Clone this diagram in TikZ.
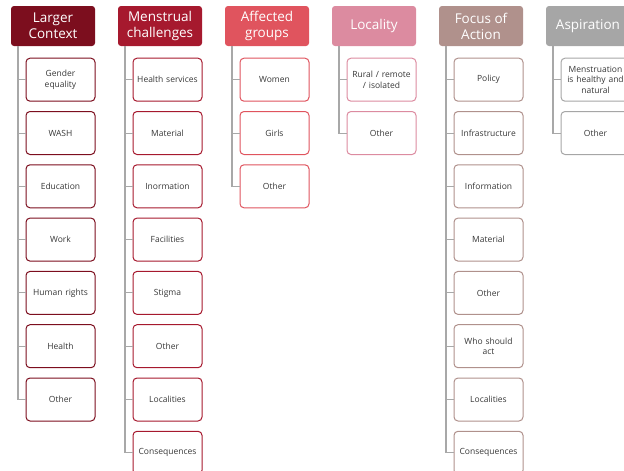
\documentclass[tikz,border=0pt]{standalone}
\usepackage{fontspec}
\setmainfont{Open Sans}
\usepackage{tikz}
\usetikzlibrary{positioning,calc}
\definecolor{ctxRed}{HTML}{7C0E1E}
\definecolor{chalRed}{HTML}{A6192E}
\definecolor{grpRed}{HTML}{E0545E}
\definecolor{locPink}{HTML}{DC8BA0}
\definecolor{actBrown}{HTML}{B0918C}
\definecolor{aspGray}{HTML}{A6A6A6}
\definecolor{lineGray}{HTML}{A8A8A8}
\tikzset{
	head/.style={rounded corners=3pt, minimum width=84pt, minimum height=40pt, inner sep=0pt, align=center, text=white, font=\fontsize{13.5}{16}\selectfont}, % column headers
	item/.style={draw, fill=white, rounded corners=4pt, line width=1pt, minimum width=69pt, minimum height=43pt, text width=64pt, inner sep=0pt, align=center, text=black!78, font=\fontsize{8.5}{10.5}\selectfont}, % boxes under a header
	first/.style={below=11.5pt of #1, xshift=7.5pt}, % first box under a header
	node distance=9.3pt,
	trunk/.style={draw=lineGray, line width=1.6pt},
	twig/.style={draw=lineGray, line width=0.9pt},
}
\begin{document}
\begin{tikzpicture}
	\useasboundingbox (0,0) rectangle (624pt,-471pt);
	\clip (0,0) rectangle (624pt,-471pt);

	% headers
	\node[head, fill=ctxRed] (ctx) at (53pt,-26pt) {Larger\\Context};
	\node[head, fill=chalRed] (chal) at (160pt,-26pt) {Menstrual\\challenges};
	\node[head, fill=grpRed] (grp) at (267pt,-26pt) {Affected\\groups};
	\node[head, fill=locPink] (loc) at (374pt,-26pt) {Locality};
	\node[head, fill=actBrown] (act) at (481pt,-26pt) {Focus of\\Action};
	\node[head, fill=aspGray] (asp) at (588pt,-26pt) {Aspiration};

	% Larger Context
	\node[item, draw=ctxRed, first=ctx] (ctx1) {Gender\\equality};
	\node[item, draw=ctxRed, below=of ctx1] (ctx2) {WASH};
	\node[item, draw=ctxRed, below=of ctx2] (ctx3) {Education};
	\node[item, draw=ctxRed, below=of ctx3] (ctx4) {Work};
	\node[item, draw=ctxRed, below=of ctx4] (ctx5) {Human rights};
	\node[item, draw=ctxRed, below=of ctx5] (ctx6) {Health};
	\node[item, draw=ctxRed, below=of ctx6] (ctx7) {Other};

	% Menstrual challenges
	\node[item, draw=chalRed, first=chal] (chal1) {Health services};
	\node[item, draw=chalRed, below=of chal1] (chal2) {Material};
	\node[item, draw=chalRed, below=of chal2] (chal3) {Inormation};
	\node[item, draw=chalRed, below=of chal3] (chal4) {Facilities};
	\node[item, draw=chalRed, below=of chal4] (chal5) {Stigma};
	\node[item, draw=chalRed, below=of chal5] (chal6) {Other};
	\node[item, draw=chalRed, below=of chal6] (chal7) {Localities};
	\node[item, draw=chalRed, below=of chal7] (chal8) {Consequences};

	% Affected groups
	\node[item, draw=grpRed, first=grp] (grp1) {Women};
	\node[item, draw=grpRed, below=of grp1] (grp2) {Girls};
	\node[item, draw=grpRed, below=of grp2] (grp3) {Other};

	% Locality
	\node[item, draw=locPink, first=loc] (loc1) {Rural / remote\\/ isolated};
	\node[item, draw=locPink, below=of loc1] (loc2) {Other};

	% Focus of Action
	\node[item, draw=actBrown, first=act] (act1) {Policy};
	\node[item, draw=actBrown, below=of act1] (act2) {Infrastructure};
	\node[item, draw=actBrown, below=of act2] (act3) {Information};
	\node[item, draw=actBrown, below=of act3] (act4) {Material};
	\node[item, draw=actBrown, below=of act4] (act5) {Other};
	\node[item, draw=actBrown, below=of act5] (act6) {Who should\\act};
	\node[item, draw=actBrown, below=of act6] (act7) {Localities};
	\node[item, draw=actBrown, below=of act7] (act8) {Consequences};

	% Aspiration
	\node[item, draw=aspGray, first=asp] (asp1) {Menstruation\\is healthy and\\natural};
	\node[item, draw=aspGray, below=of asp1] (asp2) {Other};

	% trunks
	\coordinate (ctxT) at ([xshift=7pt]ctx.south west);
	\coordinate (chalT) at ([xshift=7pt]chal.south west);
	\coordinate (grpT) at ([xshift=7pt]grp.south west);
	\coordinate (locT) at ([xshift=7pt]loc.south west);
	\coordinate (actT) at ([xshift=7pt]act.south west);
	\coordinate (aspT) at ([xshift=7pt]asp.south west);
	\draw[trunk] (ctxT) -- (ctxT |- ctx7.west);
	\draw[trunk] (chalT) -- (chalT |- chal8.west);
	\draw[trunk] (grpT) -- (grpT |- grp3.west);
	\draw[trunk] (locT) -- (locT |- loc2.west);
	\draw[trunk] (actT) -- (actT |- act8.west);
	\draw[trunk] (aspT) -- (aspT |- asp2.west);

	% twigs
	\draw[twig] (ctxT) |- (ctx1.west);
	\draw[twig] (ctxT) |- (ctx2.west);
	\draw[twig] (ctxT) |- (ctx3.west);
	\draw[twig] (ctxT) |- (ctx4.west);
	\draw[twig] (ctxT) |- (ctx5.west);
	\draw[twig] (ctxT) |- (ctx6.west);
	\draw[twig] (ctxT) |- (ctx7.west);
	\draw[twig] (chalT) |- (chal1.west);
	\draw[twig] (chalT) |- (chal2.west);
	\draw[twig] (chalT) |- (chal3.west);
	\draw[twig] (chalT) |- (chal4.west);
	\draw[twig] (chalT) |- (chal5.west);
	\draw[twig] (chalT) |- (chal6.west);
	\draw[twig] (chalT) |- (chal7.west);
	\draw[twig] (chalT) |- (chal8.west);
	\draw[twig] (grpT) |- (grp1.west);
	\draw[twig] (grpT) |- (grp2.west);
	\draw[twig] (grpT) |- (grp3.west);
	\draw[twig] (locT) |- (loc1.west);
	\draw[twig] (locT) |- (loc2.west);
	\draw[twig] (actT) |- (act1.west);
	\draw[twig] (actT) |- (act2.west);
	\draw[twig] (actT) |- (act3.west);
	\draw[twig] (actT) |- (act4.west);
	\draw[twig] (actT) |- (act5.west);
	\draw[twig] (actT) |- (act6.west);
	\draw[twig] (actT) |- (act7.west);
	\draw[twig] (actT) |- (act8.west);
	\draw[twig] (aspT) |- (asp1.west);
	\draw[twig] (aspT) |- (asp2.west);
\end{tikzpicture}
\end{document}
